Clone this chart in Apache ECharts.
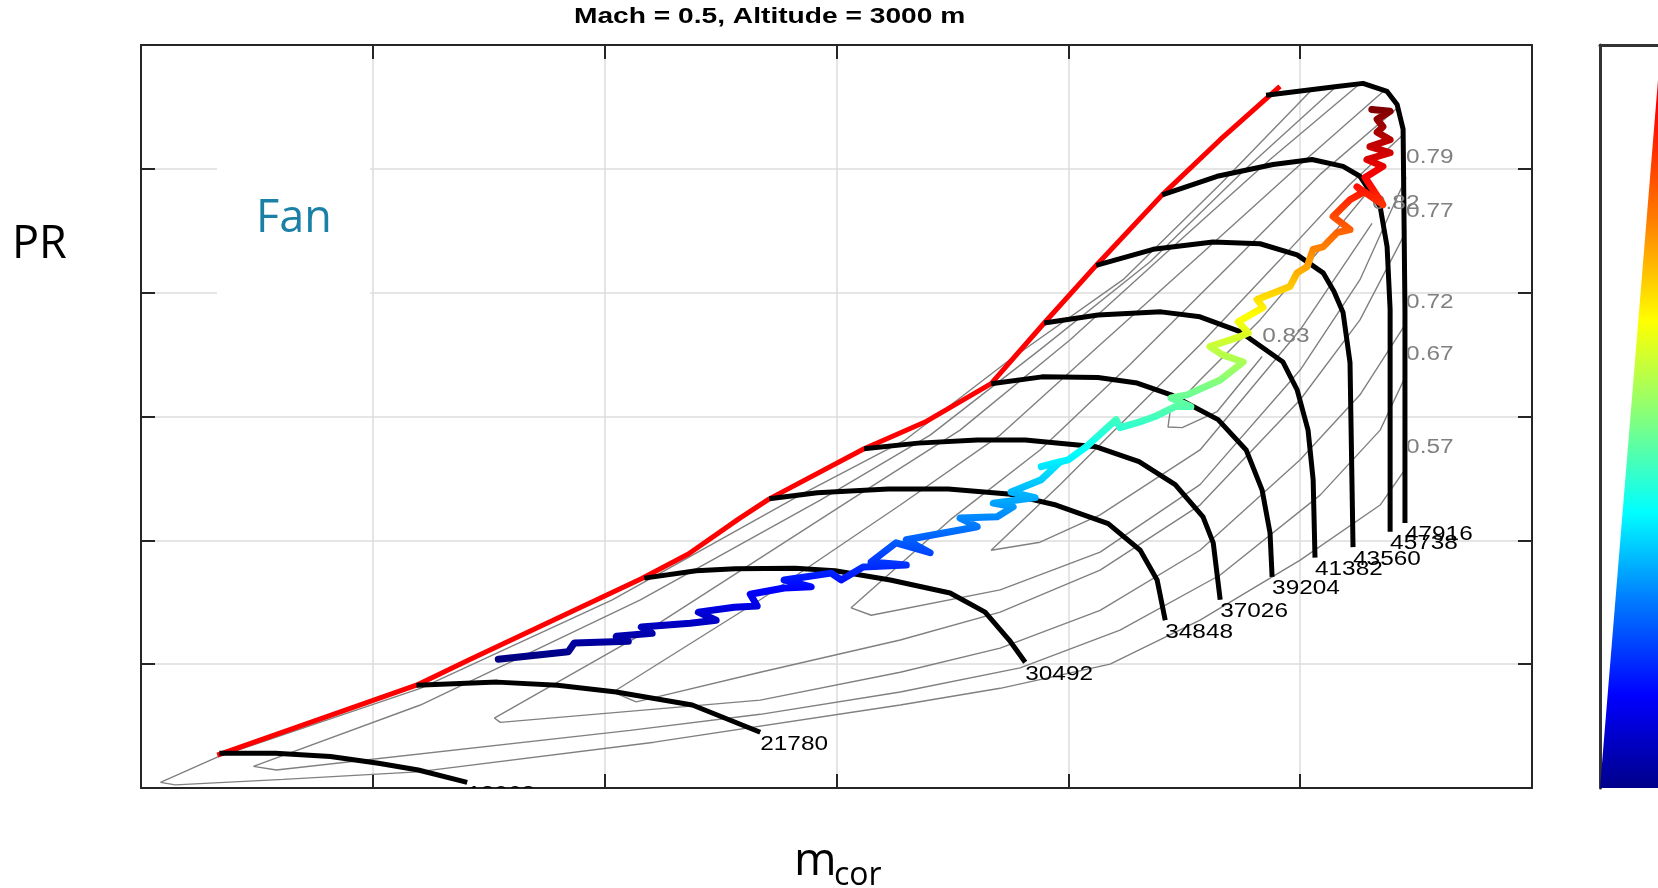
<!DOCTYPE html>
<html>
<head>
<meta charset="utf-8">
<script src="https://cdn.jsdelivr.net/npm/echarts@6/dist/echarts.min.js"></script>
<style>
html,body{margin:0;padding:0;background:#fff;}
#chart{width:1658px;height:888px;}
</style>
</head>
<body>
<div id="chart"></div>
<script>
// ---------------- DATA ----------------
// surge line
var surgeLine = [[32.9,1.053],[118.8,1.166],[141.6,1.207],[215.8,1.338],[236.1,1.378],[258.0,1.435],[271.0,1.467],[311.9,1.548],[338.2,1.591],[366.7,1.653],[389.6,1.751],[412.0,1.844],[440.5,1.958],[465.5,2.047],[491.3,2.133]];

// speed lines
var speedValues = [13068, 21780, 30492, 34848, 37026, 39204, 41382, 43560, 45738, 47916];
var speed13068 = [[33.8,1.056],[58.0,1.056],[81.7,1.051],[102.4,1.040],[119.6,1.029],[140.7,1.009]];
var speed21780 = [[118.8,1.166],[153.7,1.171],[179.6,1.166],[205.0,1.155],[237.8,1.134],[267.1,1.090]];
var speed30492 = [[217.1,1.339],[239.5,1.351],[256.3,1.354],[282.2,1.355],[299.4,1.351],[323.2,1.336],[349.0,1.315],[364.1,1.284],[374.5,1.239],[381.4,1.203]];
var speed34848 = [[271.0,1.467],[291.7,1.477],[322.3,1.483],[348.2,1.483],[374.0,1.475],[394.7,1.457],[417.2,1.427],[431.0,1.384],[438.3,1.336],[441.8,1.271]];
var speed37026 = [[311.9,1.548],[335.2,1.557],[360.7,1.562],[381.4,1.562],[412.0,1.551],[430.5,1.527],[446.1,1.490],[458.1,1.438],[462.5,1.396],[465.5,1.304]];
var speed39204 = [[366.7,1.653],[388.7,1.664],[412.8,1.663],[429.7,1.654],[444.3,1.635],[464.6,1.595],[476.7,1.546],[483.6,1.481],[487.0,1.412],[487.9,1.341]];
var speed41382 = [[389.6,1.751],[412.8,1.764],[440.0,1.769],[456.8,1.761],[474.1,1.737],[492.6,1.688],[498.7,1.643],[503.4,1.578],[505.6,1.498],[506.4,1.372]];
var speed43560 = [[412.0,1.844],[436.6,1.870],[462.4,1.882],[482.7,1.879],[498.7,1.861],[509.9,1.832],[514.6,1.802],[518.5,1.768],[521.5,1.687],[522.8,1.389]];
var speed45738 = [[440.5,1.958],[464.2,1.988],[488.3,2.007],[505.1,2.015],[518.5,2.004],[525.8,1.988],[534.5,1.939],[537.5,1.874],[538.8,1.773],[538.8,1.414]];
var speed47916 = [[485.3,2.119],[515.9,2.133],[527.1,2.138],[537.5,2.125],[541.8,2.104],[544.4,2.064],[545.2,1.773],[545.2,1.428]];
var speedLines = [speed13068, speed21780, speed30492, speed34848, speed37026, speed39204, speed41382, speed43560, speed45738, speed47916];

// efficiency contours (right end -> lower branch -> apex -> upper branch)
var effLevels = ['0.57','0.67','0.72','0.77','0.79','0.82','0.83'];
var eff057 = [[545.7,1.517],[534.5,1.457],[500.0,1.368],[456.8,1.271],[418.0,1.200],[370.6,1.161],[327.5,1.134],[221.4,1.074],[119.2,1.026],[61.4,1.014],[14.8,1.005],[8.4,1.009],[32.9,1.050],[120.5,1.161],[203.3,1.304],[284.3,1.473],[329.6,1.562],[374.9,1.692],[423.6,1.821],[465.5,1.975],[504.3,2.125]];
var eff067 = [[545.7,1.667],[534.5,1.578],[508.6,1.473],[465.5,1.344],[422.3,1.255],[379.2,1.194],[327.5,1.155],[267.1,1.119],[211.0,1.093],[58.4,1.029],[48.5,1.035],[120.5,1.134],[215.4,1.304],[293.0,1.465],[340.4,1.570],[387.8,1.708],[435.3,1.850],[476.2,1.999],[515.0,2.131]];
var eff072 = [[545.7,1.751],[525.8,1.635],[500.0,1.530],[456.8,1.384],[413.7,1.287],[370.6,1.226],[327.5,1.187],[267.1,1.142],[155.0,1.106],[152.4,1.113],[215.4,1.247],[305.9,1.465],[353.3,1.578],[400.8,1.724],[443.9,1.870],[487.0,2.015],[525.0,2.135]];
var eff077 = [[545.7,1.899],[525.8,1.756],[500.0,1.627],[456.8,1.457],[413.7,1.352],[370.6,1.284],[327.5,1.239],[267.1,1.187],[213.6,1.139],[203.7,1.155],[267.1,1.304],[327.5,1.457],[370.6,1.570],[413.7,1.716],[456.8,1.861],[500.0,2.007],[535.8,2.125]];
var eff079 = [[545.7,1.986],[525.8,1.821],[500.0,1.675],[456.8,1.490],[413.7,1.381],[370.6,1.320],[315.0,1.279],[306.3,1.291],[349.0,1.433],[387.8,1.546],[426.6,1.684],[469.8,1.845],[508.6,1.991],[542.2,2.099]];
var eff082 = [[531.0,1.912],[500.0,1.740],[456.8,1.546],[413.7,1.441],[387.8,1.397],[366.7,1.384],[396.5,1.490],[426.6,1.603],[456.8,1.716],[491.3,1.853],[521.5,1.975],[544.4,2.055]];
var eff083 = [[483.6,1.697],[464.2,1.608],[449.1,1.582],[443.0,1.583],[443.9,1.608],[456.8,1.659],[482.7,1.756],[508.6,1.870],[530.1,1.967]];
var effContours = [eff057, eff067, eff072, eff077, eff079, eff082, eff083];

// operating line (zig-zag path), coloured by PR
var operatingLine = [[154.1,1.208],[184.3,1.220],[186.9,1.234],[210.2,1.237],[205.0,1.245],[220.5,1.250],[215.8,1.260],[236.9,1.266],[248.1,1.271],[240.4,1.284],[255.9,1.292],[265.8,1.294],[262.8,1.313],[277.4,1.323],[289.1,1.325],[277.4,1.336],[297.7,1.347],[302.0,1.336],[311.5,1.357],[330.1,1.360],[314.9,1.365],[325.7,1.396],[340.4,1.380],[330.1,1.401],[353.8,1.417],[360.7,1.422],[353.3,1.436],[369.3,1.438],[376.2,1.454],[367.6,1.460],[385.7,1.469],[375.3,1.478],[388.3,1.498],[396.5,1.527],[388.3,1.519],[399.9,1.530],[407.7,1.551],[420.6,1.595],[422.3,1.582],[430.5,1.591],[437.4,1.600],[446.1,1.616],[452.9,1.616],[444.3,1.630],[451.2,1.635],[465.5,1.659],[475.4,1.688],[466.3,1.700],[461.1,1.713],[474.1,1.729],[477.6,1.735],[473.3,1.753],[484.0,1.776],[481.4,1.789],[495.6,1.810],[498.7,1.832],[503.0,1.842],[505.6,1.870],[509.9,1.874],[515.9,1.897],[521.5,1.902],[514.2,1.923],[521.5,1.950],[527.1,1.962],[524.5,1.971],[535.7,1.942],[528.0,1.986],[535.7,2.004],[528.8,2.015],[538.8,2.026],[530.1,2.036],[538.8,2.047],[533.2,2.059],[535.7,2.068],[533.2,2.080],[538.8,2.093],[530.9,2.096]];

// colour bar wedge
var colorbarWedge = [[0,0],[1,0.953]];

// axis layout values
var xMin = 0, xMax = 600, xStep = 100;
var yMin = 1.0, yMax = 2.2, yStep = 0.2;

// ---------------- CHART ----------------
var TEXT_STRETCH = 1.25;
var jet = ['#000080','#0000ff','#0080ff','#00ffff','#80ff80','#ffff00','#ff8000','#ff0000','#800000'];

function labelSeries(items, color, dy, vAlign, z) {
  return {
    type: 'custom', xAxisIndex: 0, yAxisIndex: 0, clip: true, z: z, silent: true,
    data: items,
    renderItem: function (params, api) {
      var it = items[params.dataIndex];
      var p = api.coord([it[0], it[1]]);
      return {
        type: 'text', x: p[0], y: p[1] + dy, scaleX: TEXT_STRETCH,
        style: { text: String(it[2]), fill: color, font: '19.5px "Liberation Sans", Arial, sans-serif',
                 textAlign: 'left', textVerticalAlign: vAlign }
      };
    }
  };
}

var series = [];
effContours.forEach(function (c) {
  series.push({ type: 'line', data: c, showSymbol: false, symbol: 'none', z: 1, silent: true,
    lineStyle: { color: '#808080', width: 1.4 } });
});
series.push({ type: 'line', data: surgeLine, showSymbol: false, symbol: 'none', z: 2,
  lineStyle: { color: '#ff0000', width: 5 } });
speedLines.forEach(function (s) {
  series.push({ type: 'line', data: s, showSymbol: false, symbol: 'none', z: 3,
    lineStyle: { color: '#000000', width: 5, join: 'round' } });
});
var effLabelItems = effContours.map(function (c, i) { var e = c[0]; return [e[0], e[1], effLevels[i]]; });
series.push(labelSeries(effLabelItems, '#808080', -10, 'bottom', 3.5));
var opIndex = series.length;
series.push({ type: 'line', data: operatingLine, showSymbol: false, symbol: 'none', z: 4,
  lineStyle: { width: 7, join: 'round', cap: 'round' } });
var speedLabelItems = speedLines.map(function (s, i) { var e = s[s.length - 1]; return [e[0], e[1], speedValues[i]]; });
series.push(labelSeries(speedLabelItems, '#000000', 2, 'top', 5));
series.push({ type: 'line', xAxisIndex: 2, yAxisIndex: 2, data: colorbarWedge, showSymbol: false, symbol: 'none',
  lineStyle: { width: 0 }, silent: true, z: 1,
  areaStyle: { opacity: 1, color: { type: 'linear', x: 0, y: 1, x2: 0, y2: 0, colorStops: [
    { offset: 0, color: '#00008a' }, { offset: 0.13, color: '#0000ff' }, { offset: 0.27, color: '#0080ff' },
    { offset: 0.39, color: '#00ffff' }, { offset: 0.52, color: '#80ff80' }, { offset: 0.66, color: '#ffff00' },
    { offset: 0.80, color: '#ff8000' }, { offset: 0.96, color: '#ff0000' }, { offset: 1, color: '#ff0000' } ] } } });

var axisLineStyle = { color: '#262626', width: 2 };
function valAxis(extra) {
  var base = { type: 'value', gridIndex: 0, axisLabel: { show: false },
    axisLine: { show: true, onZero: false, lineStyle: axisLineStyle },
    axisTick: { show: true, inside: true, length: 14, lineStyle: { color: '#262626', width: 2 } },
    splitLine: { show: false } };
  for (var k in extra) base[k] = extra[k];
  return base;
}
var grid0Split = { show: true, lineStyle: { color: '#dcdcdc', width: 1.5 } };
var cbAxisLine = { show: true, onZero: false, lineStyle: { color: '#333333', width: 3 } };

var option = {
  animation: false,
  backgroundColor: '#ffffff',
  grid: [
    { left: 141, top: 45, width: 1391, height: 743, show: false },
    { left: 1600, top: 45, width: 58, height: 743, show: false }
  ],
  xAxis: [
    valAxis({ min: xMin, max: xMax, interval: xStep, position: 'bottom', splitLine: grid0Split }),
    valAxis({ min: xMin, max: xMax, interval: xStep, position: 'top' }),
    { type: 'value', gridIndex: 1, min: 0, max: 1, position: 'top', axisLine: cbAxisLine,
      axisTick: { show: false }, axisLabel: { show: false }, splitLine: { show: false } }
  ],
  yAxis: [
    valAxis({ min: yMin, max: yMax, interval: yStep, position: 'left', splitLine: grid0Split }),
    valAxis({ min: yMin, max: yMax, interval: yStep, position: 'right' }),
    { type: 'value', gridIndex: 1, min: 0, max: 1, position: 'left', axisLine: cbAxisLine,
      axisTick: { show: false }, axisLabel: { show: false }, splitLine: { show: false } }
  ],
  visualMap: [{ type: 'continuous', show: false, seriesIndex: opIndex, dimension: 1,
    min: 1.208, max: 2.096, inRange: { color: jet } }],
  graphic: [
    { type: 'rect', z: 10, shape: { x: 217, y: 150, width: 153, height: 155 }, style: { fill: '#ffffff' } },
    { type: 'text', z: 11, x: 256, y: 219, style: { text: 'Fan', fill: '#1b7fa6', font: '45px "Open Sans", "Noto Sans", sans-serif', textVerticalAlign: 'middle' } },
    { type: 'text', z: 11, x: 12, y: 245, style: { text: 'PR', fill: '#000000', font: '45px "Open Sans", "Noto Sans", sans-serif', textVerticalAlign: 'middle' } },
    { type: 'text', z: 11, x: 574, y: 17, scaleX: 1.28, style: { text: 'Mach = 0.5, Altitude = 3000 m', fill: '#000000', font: 'bold 22px "Liberation Sans", Arial, sans-serif', textVerticalAlign: 'middle' } },
    { type: 'text', z: 11, x: 794, y: 862, style: { text: 'm', fill: '#000000', font: '46px "Open Sans", "Noto Sans", sans-serif', textVerticalAlign: 'middle' } },
    { type: 'text', z: 11, x: 834, y: 876, style: { text: 'cor', fill: '#000000', font: '32px "Open Sans", "Noto Sans", sans-serif', textVerticalAlign: 'middle' } }
  ],
  series: series
};

var chart = echarts.init(document.getElementById('chart'), null, { renderer: 'canvas' });
chart.setOption(option);
</script>
</body>
</html>
